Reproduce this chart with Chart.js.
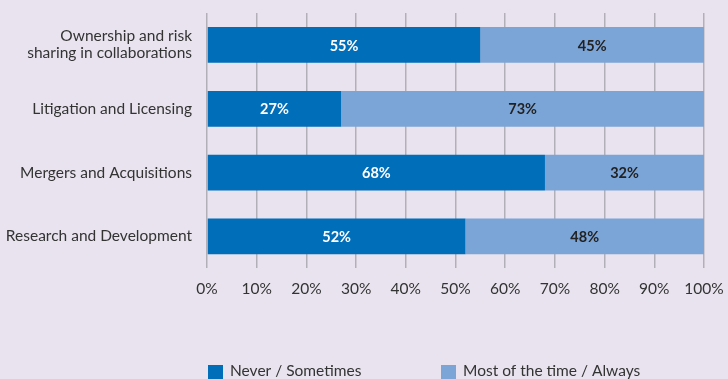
<!DOCTYPE html>
<html>
<head>
<meta charset="utf-8">
<script src="https://cdn.jsdelivr.net/npm/chart.js@4"></script>
<style>
  html, body { margin: 0; padding: 0; background: #e8e3ee; }
  #wrap { width: 728px; height: 379px; position: relative; }
</style>
</head>
<body>
<div id="wrap"><canvas id="usageChart"></canvas></div>
<script>
// Категории и доли ответов
const categories = [
    ['Ownership and risk', 'sharing in collaborations'],
    'Litigation and Licensing',
    'Mergers and Acquisitions',
    'Research and Development'
];
const neverSometimes = [55, 27, 68, 52];
const mostAlways = [45, 73, 32, 48];
const seriesNames = ['Never / Sometimes', 'Most of the time / Always'];
const percentTicks = [0, 10, 20, 30, 40, 50, 60, 70, 80, 90, 100];

const fontFamily = 'Lato, "Noto Sans", sans-serif';
const textColor = '#333333';

// Подписи значений внутри сегментов
const barLabels = {
    id: 'barLabels',
    afterDatasetsDraw(chart) {
        const ctx = chart.ctx;
        ctx.save();
        ctx.font = 'bold 14.5px ' + fontFamily;
        ctx.textAlign = 'center';
        ctx.textBaseline = 'middle';
        chart.data.datasets.forEach((ds, di) => {
            const meta = chart.getDatasetMeta(di);
            meta.data.forEach((bar, i) => {
                const x = (bar.x + bar.base) / 2;
                ctx.fillStyle = di === 0 ? '#ffffff' : '#222222';
                ctx.fillText(ds.data[i] + '%', x, bar.y + 1);
            });
        });
        ctx.restore();
    }
};

// Легенда внизу слева
const bottomLegend = {
    id: 'bottomLegend',
    afterDraw(chart) {
        const ctx = chart.ctx;
        const left = chart.chartArea.left;
        const offsets = [1, 234];
        ctx.save();
        ctx.font = '15.5px ' + fontFamily;
        ctx.textBaseline = 'middle';
        chart.data.datasets.forEach((ds, di) => {
            const x = left + offsets[di];
            ctx.fillStyle = ds.backgroundColor;
            ctx.fillRect(x, 365, 15, 15);
            ctx.fillStyle = textColor;
            ctx.fillText(ds.label, x + 22, 371);
        });
        ctx.restore();
    }
};

let ctx = document.getElementById('usageChart').getContext('2d');
let usageChart = new Chart(ctx, {
    type: 'bar',
    data: {
        labels: categories,
        datasets: [
            {
                label: seriesNames[0],
                data: neverSometimes,
                backgroundColor: '#006eb9',
                barPercentage: 0.56,
                categoryPercentage: 1
            },
            {
                label: seriesNames[1],
                data: mostAlways,
                backgroundColor: '#7ca5d7',
                barPercentage: 0.56,
                categoryPercentage: 1
            }
        ]
    },
    options: {
        indexAxis: 'y',
        responsive: true,
        maintainAspectRatio: false,
        animation: false,
        layout: {
            padding: { top: 13, right: 24, bottom: 70, left: 0 }
        },
        plugins: {
            legend: { display: false },
            tooltip: { enabled: false }
        },
        scales: {
            x: {
                stacked: true,
                min: 0,
                max: 100,
                afterBuildTicks: (scale) => {
                    scale.ticks = percentTicks.map(v => ({ value: v }));
                },
                afterFit: (scale) => {
                    scale.paddingLeft = 0;
                    scale.paddingRight = 0;
                },
                grid: {
                    color: '#b3afb8',
                    lineWidth: 1.5,
                    drawTicks: false
                },
                border: { display: false },
                ticks: {
                    color: textColor,
                    font: { family: fontFamily, size: 15.5 },
                    padding: 11,
                    callback: (v) => v + '%'
                }
            },
            y: {
                stacked: true,
                grid: { display: false, drawTicks: false },
                border: { display: false },
                afterFit: (scale) => {
                    scale.width = 207;
                    scale.paddingTop = 0;
                    scale.paddingBottom = 0;
                },
                ticks: {
                    color: textColor,
                    font: { family: fontFamily, size: 15.5, lineHeight: 1.1 },
                    padding: 15
                }
            }
        }
    },
    plugins: [barLabels, bottomLegend]
});
</script>
</body>
</html>
